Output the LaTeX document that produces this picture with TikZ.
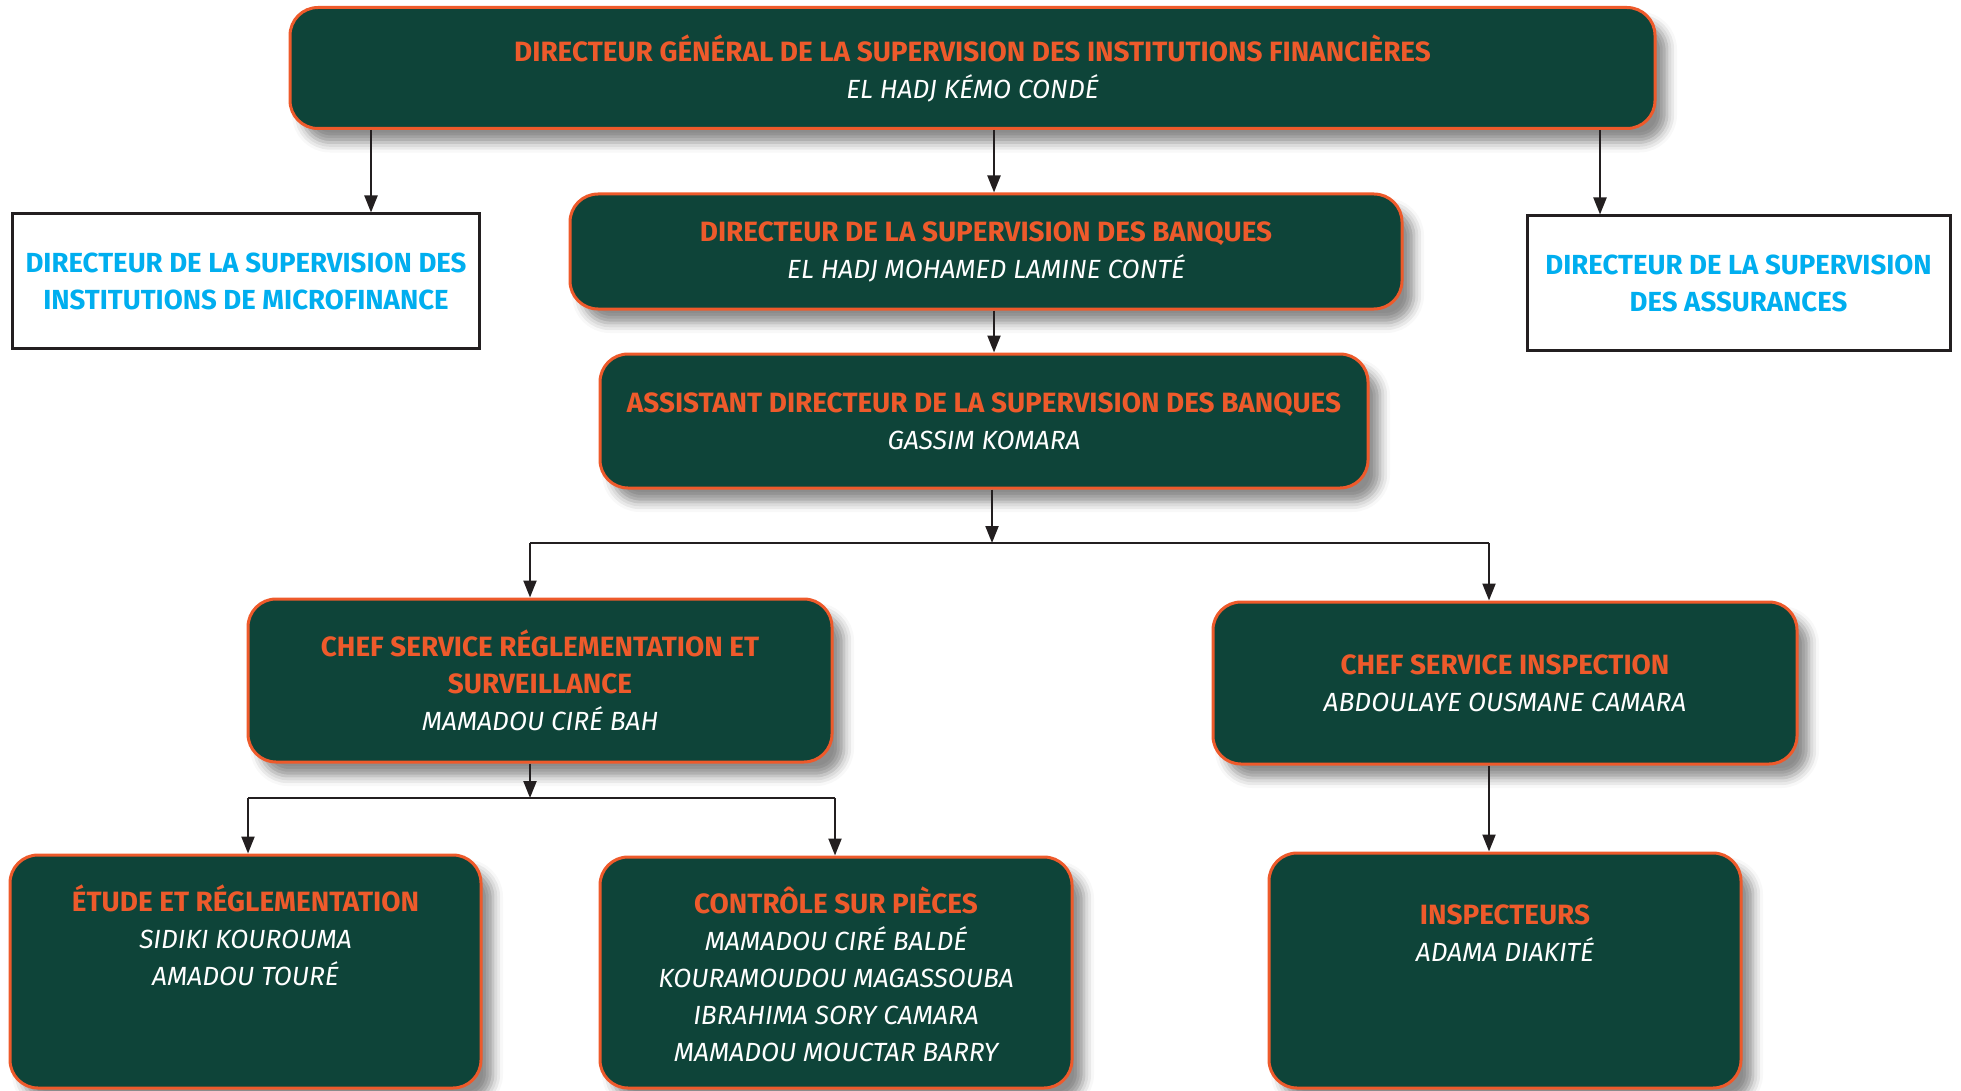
\documentclass[tikz,border=0pt]{standalone}
\usepackage{fontspec}
\setmainfont{Fira Sans}
\usetikzlibrary{shadows.blur,arrows.meta}
\definecolor{dkgreen}{HTML}{0E4439}
\definecolor{orng}{HTML}{EE5A2B}
\definecolor{cyanT}{HTML}{00AEEF}
\definecolor{lineC}{HTML}{231F20}
\newcommand\hd[1]{{\bfseries\color{orng}#1}}
\newcommand\nm[1]{{\fontsize{26.3}{37}\selectfont\itshape\color{white}#1}}
\tikzset{
  gbox/.style={draw=orng, line width=3pt, fill=dkgreen, rounded corners=28pt,
    blur shadow={shadow xshift=12pt, shadow yshift=-14pt, shadow blur radius=10pt, shadow opacity=45},
    align=center, inner sep=0pt, font=\fontsize{27.9}{37}\selectfont},
  wbox/.style={draw=lineC, line width=3pt, fill=white, align=center, inner sep=0pt,
    font=\fontsize{27.6}{37}\selectfont\bfseries\color{cyanT}},
  txt/.style={align=center, inner sep=0pt, font=\fontsize{27.9}{37}\selectfont},
  arr/.style={draw=lineC, line width=2.2pt, -{Triangle[length=17pt,width=13pt]}},
  ln/.style={draw=lineC, line width=2.2pt},
}
\begin{document}
\begin{tikzpicture}[x=1pt,y=-1pt]
\useasboundingbox (0,0) rectangle (1961,1091);
% boxes
\node[gbox, minimum width=1365pt, minimum height=121pt] (dg) at (972.5,68)
  {\hd{DIRECTEUR GÉNÉRAL DE LA SUPERVISION DES INSTITUTIONS FINANCIÈRES}\\ \nm{EL HADJ KÉMO CONDÉ}};
\node[wbox, minimum width=467pt, minimum height=134pt] (mfi) at (246,281)
  {DIRECTEUR DE LA SUPERVISION DES\\ INSTITUTIONS DE MICROFINANCE};
\node[wbox, minimum width=423pt, minimum height=134pt] (ass) at (1738.5,283)
  {DIRECTEUR DE LA SUPERVISION\\ DES ASSURANCES};
\node[gbox, minimum width=832pt, minimum height=115pt] (dsb) at (986,251.5)
  {\hd{DIRECTEUR DE LA SUPERVISION DES BANQUES}\\ \nm{EL HADJ MOHAMED LAMINE CONTÉ}};
\node[gbox, minimum width=768pt, minimum height=134pt] (adsb) at (984,421)
  {\hd{ASSISTANT DIRECTEUR DE LA SUPERVISION DES BANQUES}\\ \nm{GASSIM KOMARA}};
\node[gbox, minimum width=584pt, minimum height=163pt] (csr) at (540,680.5)
  {\hd{CHEF SERVICE RÉGLEMENTATION ET}\\ \hd{SURVEILLANCE}\\ \nm{MAMADOU CIRÉ BAH}};
\node[gbox, minimum width=584pt, minimum height=162pt] (csi) at (1505,683)
  {\hd{CHEF SERVICE INSPECTION}\\ \nm{ABDOULAYE OUSMANE CAMARA}};
\node[gbox, minimum width=471pt, minimum height=233pt] (etu) at (245.5,971.5) {};
\node[gbox, minimum width=472pt, minimum height=231pt] (ctl) at (836,972.5) {};
\node[gbox, minimum width=472pt, minimum height=235pt] (ins) at (1505,970.5) {};
\node[txt] (etuT) at (245.5,935.5)
  {\hd{ÉTUDE ET RÉGLEMENTATION}\\ \nm{SIDIKI KOUROUMA}\\ \nm{AMADOU TOURÉ}};
\node[txt] (ctlT) at (836,974)
  {\hd{CONTRÔLE SUR PIÈCES}\\ \nm{MAMADOU CIRÉ BALDÉ}\\ \nm{KOURAMOUDOU MAGASSOUBA}\\ \nm{IBRAHIMA SORY CAMARA}\\ \nm{MAMADOU MOUCTAR BARRY}};
\node[txt] (insT) at (1505,933)
  {\hd{INSPECTEURS}\\ \nm{ADAMA DIAKITÉ}};
% connector x positions
\coordinate (xa) at (371,0);
\coordinate (xb) at (994,0);
\coordinate (xc) at (1600,0);
\coordinate (xd) at (992,0);
\coordinate (xe) at (530,0);
\coordinate (xf) at (1489,0);
\coordinate (xg) at (248,0);
\coordinate (xh) at (835,0);
\coordinate (bus1) at (992,543);
\coordinate (bus2) at (530,798);
% connectors
\draw[arr] (dg.south -| xa) -- (mfi.north -| xa);
\draw[arr] (dg.south -| xb) -- (dsb.north -| xb);
\draw[arr] (dg.south -| xc) -- (ass.north -| xc);
\draw[arr] (dsb.south -| xb) -- (adsb.north -| xb);
\draw[arr] (adsb.south -| xd) -- (bus1);
\draw[ln] (bus1 -| xe) -- (bus1 -| xf);
\draw[arr] (bus1 -| xe) -- (csr.north -| xe);
\draw[arr] (bus1 -| xf) -- (csi.north -| xf);
\draw[arr] (csr.south -| xe) -- (bus2);
\draw[ln] (bus2 -| xg) -- (bus2 -| xh);
\draw[arr] (bus2 -| xg) -- (etu.north -| xg);
\draw[arr] (bus2 -| xh) -- (ctl.north -| xh);
\draw[arr] (csi.south -| xf) -- (ins.north -| xf);
\end{tikzpicture}
\end{document}
